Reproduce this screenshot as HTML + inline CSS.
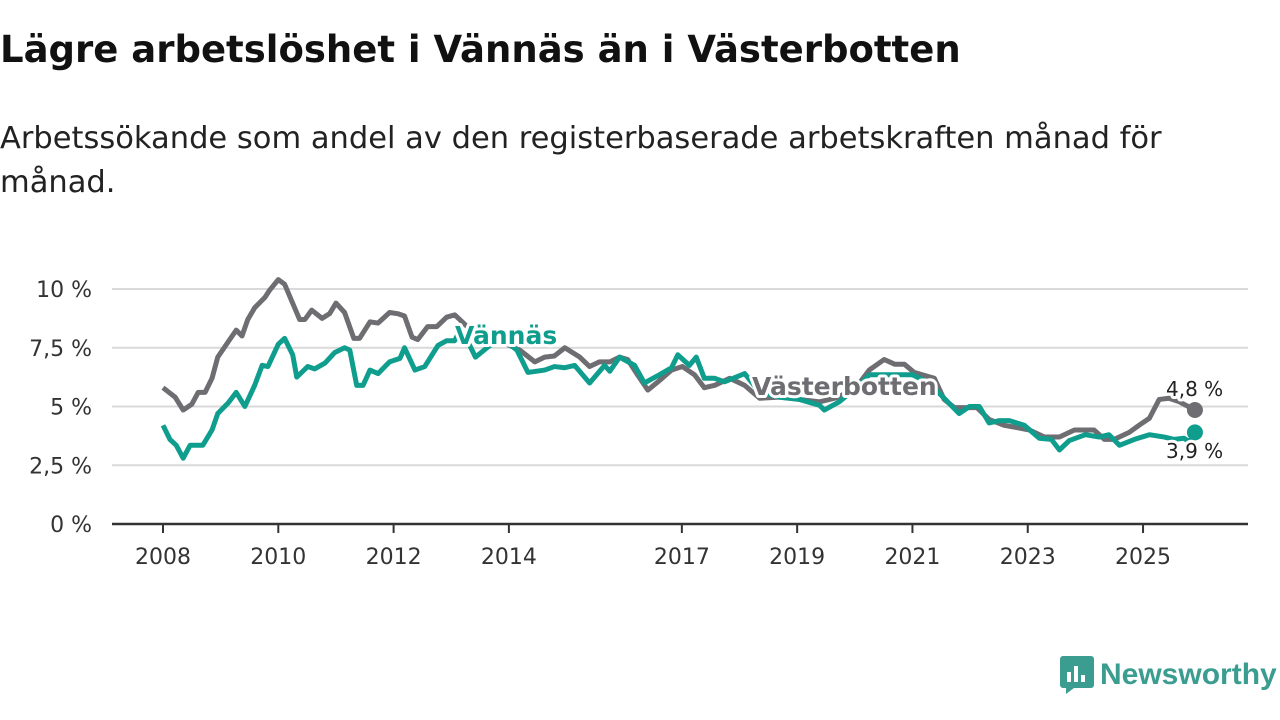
<!DOCTYPE html>
<html><head><meta charset="utf-8"><style>
body{margin:0;width:1280px;height:720px;background:#fff;font-family:"DejaVu Sans",sans-serif;overflow:hidden;position:relative}
h1{position:absolute;left:0;top:28px;margin:0;font-size:37px;font-weight:bold;color:#111}
p{position:absolute;left:0;top:117px;margin:0;font-size:30.5px;line-height:44px;color:#222;width:1200px}
</style></head><body>
<h1>Lägre arbetslöshet i Vännäs än i Västerbotten</h1>
<p>Arbetssökande som andel av den registerbaserade arbetskraften månad för månad.</p>
<svg id="chart" width="1280" height="720" style="position:absolute;left:0;top:0"></svg>
<div style="position:absolute;left:1060px;top:656px;display:flex;align-items:center">
<svg width="34" height="38"><rect x="0" y="0" width="34" height="32" rx="3" fill="#3a9d90"/><polygon points="6,32 14,32 6,38" fill="#3a9d90"/><rect x="7" y="16" width="4" height="10" fill="#fff"/><rect x="14" y="10" width="4" height="16" fill="#fff"/><rect x="21" y="19" width="4" height="7" fill="#fff"/></svg>
<span style="font-family:'Liberation Sans',sans-serif;font-size:30px;font-weight:bold;color:#3a9d90;margin-left:6px">Newsworthy</span></div>
<script>
const yTicks=[0,2.5,5,7.5,10];
const yTickLabels=["0 %","2,5 %","5 %","7,5 %","10 %"];
const xTicks=[2008,2010,2012,2014,2017,2019,2021,2023,2025];
const vbDates=[2008.00,2008.21,2008.35,2008.50,2008.61,2008.73,2008.85,2008.95,2009.13,2009.27,2009.37,2009.47,2009.59,2009.77,2009.85,2010.0,2010.11,2010.37,2010.46,2010.58,2010.76,2010.89,2011.0,2011.15,2011.31,2011.41,2011.59,2011.73,2011.93,2012.07,2012.19,2012.32,2012.42,2012.59,2012.75,2012.92,2013.06,2013.32,2013.67,2014.01,2014.19,2014.45,2014.62,2014.79,2014.97,2015.23,2015.40,2015.57,2015.75,2015.92,2016.06,2016.23,2016.41,2016.61,2016.82,2017.01,2017.22,2017.39,2017.57,2017.83,2018.09,2018.35,2018.69,2019.04,2019.39,2019.73,2020.08,2020.25,2020.51,2020.69,2020.86,2021.03,2021.38,2021.55,2021.73,2021.90,2022.12,2022.33,2022.59,2022.82,2023.03,2023.29,2023.55,2023.81,2024.15,2024.33,2024.50,2024.76,2024.93,2025.11,2025.28,2025.45,2025.63,2025.90];
const vbValues=[5.8,5.4,4.85,5.1,5.6,5.6,6.2,7.1,7.75,8.25,8.0,8.7,9.2,9.65,9.95,10.4,10.2,8.7,8.7,9.1,8.75,8.95,9.4,9.0,7.9,7.9,8.6,8.55,9.0,8.95,8.85,7.95,7.85,8.4,8.4,8.8,8.9,8.3,7.9,7.6,7.4,6.9,7.1,7.15,7.5,7.1,6.7,6.9,6.9,7.1,7.0,6.35,5.7,6.1,6.55,6.7,6.35,5.8,5.9,6.2,5.9,5.35,5.4,5.3,5.2,5.4,6.0,6.55,7.0,6.8,6.8,6.45,6.2,5.3,4.95,4.95,4.95,4.45,4.2,4.1,4.0,3.7,3.7,4.0,4.0,3.6,3.6,3.9,4.2,4.5,5.3,5.35,5.2,4.85];
const vnDates=[2008.00,2008.12,2008.23,2008.35,2008.47,2008.69,2008.85,2008.95,2009.13,2009.27,2009.42,2009.59,2009.72,2009.82,2010.0,2010.11,2010.25,2010.32,2010.51,2010.63,2010.81,2010.98,2011.15,2011.24,2011.36,2011.47,2011.59,2011.73,2011.93,2012.11,2012.19,2012.37,2012.54,2012.77,2012.92,2013.06,2013.15,2013.32,2013.42,2013.67,2013.93,2014.14,2014.33,2014.62,2014.79,2014.97,2015.14,2015.40,2015.66,2015.75,2015.92,2016.18,2016.35,2016.61,2016.82,2016.93,2017.13,2017.25,2017.39,2017.57,2017.74,2018.09,2018.35,2018.69,2019.04,2019.39,2019.47,2019.73,2020.08,2020.25,2021.0,2021.29,2021.55,2021.81,2021.99,2022.16,2022.33,2022.51,2022.68,2022.94,2023.20,2023.41,2023.55,2023.72,2024.0,2024.24,2024.41,2024.59,2024.85,2025.11,2025.37,2025.54,2025.71,2025.80,2025.90];
const vnValues=[4.2,3.6,3.35,2.8,3.35,3.35,4.0,4.7,5.15,5.6,5.0,5.9,6.75,6.7,7.65,7.9,7.2,6.25,6.7,6.6,6.85,7.3,7.5,7.4,5.9,5.9,6.55,6.4,6.9,7.05,7.5,6.55,6.7,7.6,7.8,7.8,8.25,7.6,7.1,7.6,7.8,7.4,6.45,6.55,6.7,6.65,6.75,6.0,6.75,6.5,7.1,6.75,6.0,6.35,6.65,7.2,6.75,7.1,6.2,6.2,6.05,6.4,5.6,5.4,5.3,5.05,4.85,5.2,5.9,6.35,6.35,6.0,5.35,4.7,5.0,5.0,4.3,4.4,4.4,4.2,3.65,3.6,3.15,3.55,3.8,3.7,3.8,3.35,3.6,3.8,3.7,3.6,3.65,3.5,3.9];
const NS="http://www.w3.org/2000/svg";
const svg=document.getElementById('chart');
const X=t=>163+(t-2008)*57.65;
const Y=v=>524-v*23.5;
function mk(tag,attrs,parent){const e=document.createElementNS(NS,tag);for(const k in attrs)e.setAttribute(k,attrs[k]);(parent||svg).appendChild(e);return e;}
yTicks.forEach((v,i)=>{
 if(v>0){const g=mk('line',{x1:112,x2:1248,y1:Y(v),y2:Y(v),stroke:'#d9d9d9','stroke-width':2});
 
 }
 const t=mk('text',{x:92,y:Y(v)+8,'text-anchor':'end','font-size':22,fill:'#333','font-family':'DejaVu Sans, sans-serif'});
 t.textContent=yTickLabels[i];
 
 
});
const ax=mk('line',{x1:112,x2:1248,y1:524,y2:524,stroke:'#333','stroke-width':2.5});


xTicks.forEach(yr=>{
 const tk=mk('line',{x1:X(yr),x2:X(yr),y1:524,y2:533,stroke:'#333','stroke-width':2});
 
 
 const t=mk('text',{x:X(yr),y:564,'text-anchor':'middle','font-size':22,fill:'#333','font-family':'DejaVu Sans, sans-serif'});
 t.textContent=yr;
 
 
});
function line(d,v,c,name){
 const p=mk('polyline',{points:d.map((t,i)=>X(t)+','+Y(v[i])).join(' '),fill:'none',stroke:c,'stroke-width':5,'stroke-linejoin':'round'});
 
 
 const n=d.length-1;
 const dot=mk('circle',{cx:X(d[n]),cy:Y(v[n]),r:8,fill:c});
 
 
}
line(vbDates,vbValues,'#6e6d72','vasterbotten-line');
line(vnDates,vnValues,'#0f9e8e','vannas-line');
function lbl(x,y,txt,c,fs,bold,name){
 const t=mk('text',{x:x,y:y,'font-size':fs,'font-weight':bold?'bold':'normal',fill:c,stroke:'#fff','stroke-width':6,'paint-order':'stroke','stroke-linejoin':'round','font-family':'DejaVu Sans, sans-serif'});
 t.textContent=txt;
 
 
}
lbl(455,344,'Vännäs','#0f9e8e',25,true,'vannas-label');
lbl(752,395,'Västerbotten','#6e6d72',25,true,'vasterbotten-label');
lbl(1166,396,'4,8 %','#222',20,false,'vasterbotten-end-value');
lbl(1166,458,'3,9 %','#222',20,false,'vannas-end-value');
</script>
</body></html>
